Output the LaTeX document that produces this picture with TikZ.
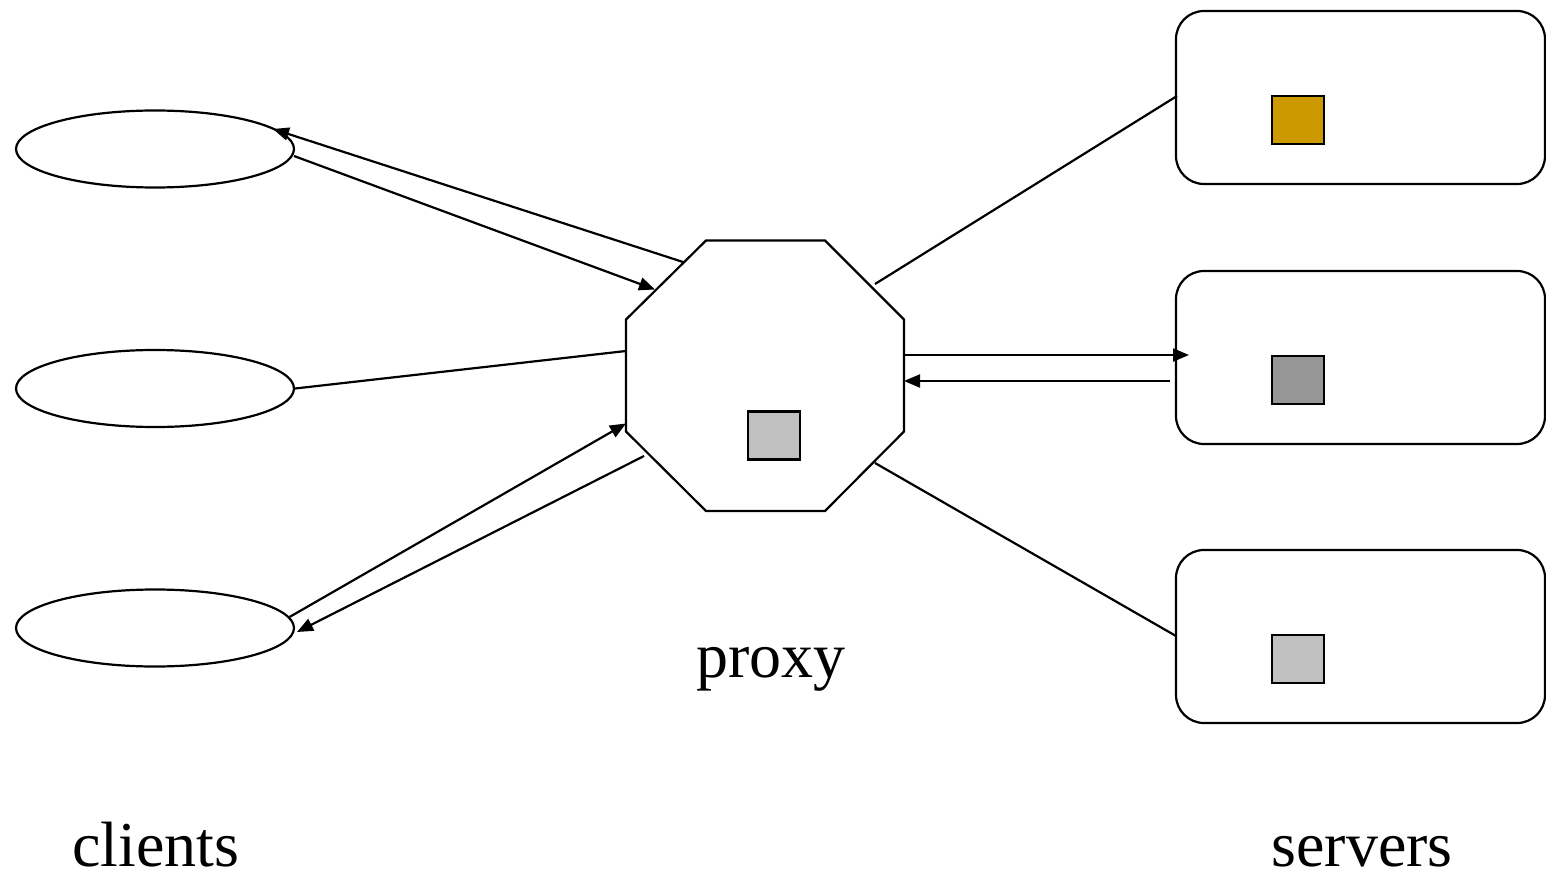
\documentclass[tikz,border=0pt]{standalone}
\usepackage{fontspec}
\setmainfont{Liberation Serif}
\usetikzlibrary{shapes.geometric,arrows.meta}
\definecolor{gold}{HTML}{CC9900}
\definecolor{dgrey}{HTML}{969696}
\definecolor{lgrey}{HTML}{C0C0C0}
\tikzset{
  lw/.style={line width=2.2pt},
  client/.style={ellipse,draw,lw,minimum width=278pt,minimum height=77pt,inner sep=0pt},
  server/.style={rectangle,draw,lw,rounded corners=28pt,minimum width=369pt,minimum height=173pt,inner sep=0pt},
  obj/.style={rectangle,draw,lw,minimum width=52pt,minimum height=48pt,inner sep=0pt},
  conn/.style={lw},
  arr/.style={lw,-{Triangle[length=16pt,width=13pt]}},
  lbl/.style={font=\fontsize{64}{70}\selectfont,anchor=base,inner sep=0pt}
}
\begin{document}
\begin{tikzpicture}[x=1pt,y=-1pt]
\useasboundingbox (0,0) rectangle (1546,874);
% clients
\node[client] (c1) at (155,149) {};
\node[client] (c2) at (155,388.5) {};
\node[client] (c3) at (155,628) {};
% servers
\node[server] (s1) at (1360.5,97.5) {};
\node[server] (s2) at (1360.5,357.5) {};
\node[server] (s3) at (1360.5,636.5) {};
\node[obj,fill=gold] (q1) at (1298,120) {};
\node[obj,fill=dgrey] (q2) at (1298,380) {};
\node[obj,fill=lgrey] (q3) at (1298,659) {};
% proxy octagon
\draw[lw,line join=miter] (706,240.5) -- (825,240.5) -- (904,319.5) -- (904,431.5) -- (825,511) -- (706,511) -- (626,431.5) -- (626,319.5) -- cycle;
\coordinate (proxy) at (765,375.5);
\node[obj,fill=lgrey] (q0) at (774,435.5) {};
% connector endpoints
\coordinate (p1) at (683,262);
\coordinate (e1) at (273,129);
\coordinate (c1o) at (294,156);
\coordinate (p2) at (655,289.5);
\coordinate (p3) at (626,351);
\coordinate (c3o) at (289.5,617);
\coordinate (p4) at (626,423.5);
\coordinate (p5) at (644,456);
\coordinate (e5) at (297,632);
\coordinate (p6) at (875,284);
\coordinate (s1i) at (1177,96);
\coordinate (p7) at (904,355);
\coordinate (s2i) at (1189,355);
\coordinate (s2o) at (1170,381);
\coordinate (p8) at (904,381);
\coordinate (p9) at (875,463);
\coordinate (s3i) at (1176,636);
\draw[arr] (p1) -- (e1);
\draw[arr] (c1o) -- (p2);
\draw[conn] (c2.east) -- (p3);
\draw[arr] (c3o) -- (p4);
\draw[arr] (p5) -- (e5);
\draw[conn] (p6) -- (s1i);
\draw[arr] (p7) -- (s2i);
\draw[arr] (s2o) -- (p8);
\draw[conn] (p9) -- (s3i);
% labels
\node[lbl] (lp) at (771,677) {proxy};
\node[lbl] (lc) at (156,866) {clients};
\node[lbl] (ls) at (1362,866) {servers};
\end{tikzpicture}
\end{document}
